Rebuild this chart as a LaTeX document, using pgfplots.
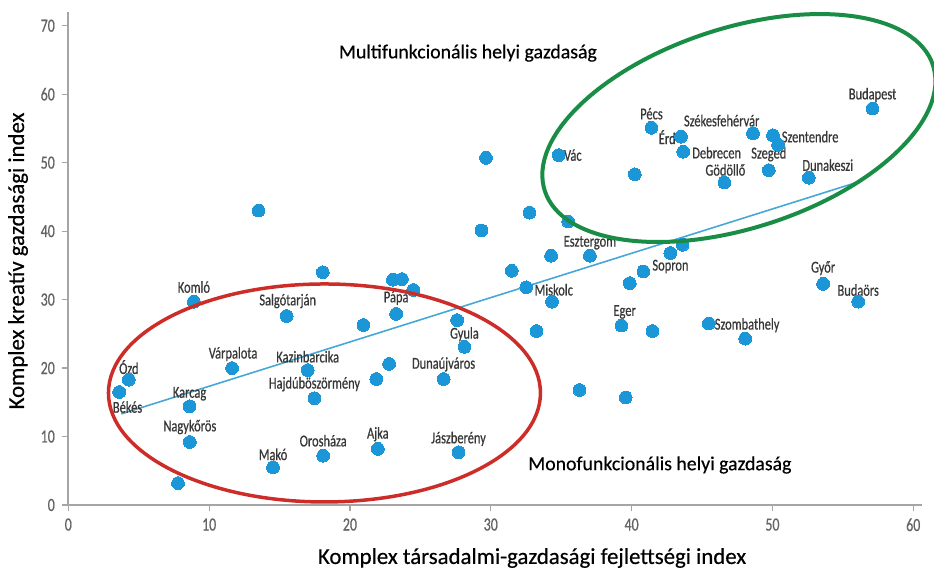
\documentclass[border=0pt]{standalone}
\usepackage{fontspec}
\setmainfont{Carlito}
\newfontfamily\condfont[FakeStretch=0.75, FakeBold=0.6]{Carlito}
\newfontfamily\axfont[FakeBold=0.4]{Carlito}
\usepackage{pgfplots}
\pgfplotsset{compat=1.18}
\definecolor{dotblue}{RGB}{27,150,214}
\definecolor{trendblue}{RGB}{70,168,215}
\definecolor{ellred}{RGB}{205,45,40}
\definecolor{ellgreen}{RGB}{25,140,70}
\definecolor{axisgray}{RGB}{165,165,165}
\definecolor{tickgray}{RGB}{100,100,100}
\definecolor{labelgray}{RGB}{55,55,55}
\begin{document}
\begin{tikzpicture}
\useasboundingbox (-34.15pt,-33pt) rectangle (432.85pt,252.5pt);
\tikzset{lbl/.style={font=\condfont\fontsize{8.3}{9}\selectfont, text=labelgray, inner sep=0pt}}
\begin{axis}[
  at={(0,0)}, anchor=south west,
  scale only axis, width=426.7pt, height=246.5pt,
  xmin=0, xmax=60.6, ymin=0, ymax=72,
  axis lines=left,
  axis line style={draw=axisgray, line width=1pt, -},
  xtick={0,10,...,60}, ytick={0,10,...,70},
  tick style={draw=axisgray, line width=0.6pt},
  major tick length=3.2pt, tick align=outside,
  ticklabel style={font=\condfont\fontsize{9.3}{10}\selectfont, text=tickgray},
  /pgf/number format/assume math mode=true,
  clip=false,
  xlabel={Komplex társadalmi-gazdasági fejlettségi index},
  ylabel={Komplex kreatív gazdasági index},
  xlabel style={at={(axis description cs:0.5435,-0.1075)}, anchor=center, font=\axfont\fontsize{11.4}{13}\selectfont, text=black},
  ylabel style={at={(axis description cs:-0.0589,0.495)}, anchor=center, font=\axfont\fontsize{11.4}{13}\selectfont, text=black},
]
% trend line
\addplot[trendblue, line width=0.8pt] coordinates {(3.76,13.3) (55.97,47.1)};
% cities
\addplot[only marks, mark=*, mark size=3.2pt, color=dotblue, mark options={draw=dotblue, fill=dotblue, line width=0pt}] coordinates {
(13.51,43.0) (18.07,34.0) (29.66,50.7) (34.82,51.1) (32.75,42.7) (35.50,41.4)
(29.34,40.1) (34.28,36.4) (37.04,36.4) (31.49,34.2) (23.05,32.9) (23.69,33.0)
(24.49,31.4) (32.52,31.8) (57.11,57.9) (41.41,55.1) (43.51,53.8) (48.62,54.3)
(50.04,54.0) (50.40,52.6) (43.67,51.6) (40.23,48.3) (46.59,47.1) (49.74,48.9)
(52.58,47.8) (43.62,38.0) (42.75,36.8) (40.84,34.1) (39.87,32.4) (53.60,32.3)
(56.09,29.7) (39.28,26.2) (41.48,25.4) (45.48,26.5) (48.07,24.3) (39.58,15.7)
(34.35,29.7) (33.25,25.4) (36.30,16.8) (23.28,27.9) (20.96,26.3) (27.61,27.0)
(28.13,23.1) (22.78,20.6) (21.87,18.4) (26.65,18.4) (17.00,19.7) (17.48,15.6)
(18.10,7.2) (21.98,8.2) (27.71,7.7) (8.92,29.7) (15.51,27.6) (11.63,20.0)
(4.30,18.3) (3.61,16.5) (8.61,14.4) (8.63,9.2) (14.54,5.5) (7.79,3.2)
};
\coordinate (redc) at (axis cs:18.19,16.36);
\coordinate (greenc) at (axis cs:47.62,55.06);
% labels
\node[lbl, xshift=0pt, yshift=7.3pt] at (axis cs:8.92,29.7) {Komló};
\node[lbl, xshift=0.5pt, yshift=7.5pt] at (axis cs:15.51,27.6) {Salgótarján};
\node[lbl, xshift=0.5pt, yshift=7pt] at (axis cs:11.63,20.0) {Várpalota};
\node[lbl, yshift=6.3pt] at (axis cs:4.30,18.3) {Ózd};
\node[lbl, xshift=4.2pt, yshift=-7.5pt] at (axis cs:3.61,16.5) {Békés};
\node[lbl, yshift=6.3pt] at (axis cs:8.61,14.4) {Karcag};
\node[lbl, yshift=7.5pt] at (axis cs:8.63,9.2) {Nagykőrös};
\node[lbl, yshift=6.5pt] at (axis cs:14.54,5.5) {Makó};
\node[lbl, yshift=6.7pt] at (axis cs:17.00,19.7) {Kazinbarcika};
\node[lbl, yshift=7pt] at (axis cs:17.48,15.6) {Hajdúböszörmény};
\node[lbl, yshift=7.5pt] at (axis cs:18.10,7.2) {Orosháza};
\node[lbl, yshift=7.3pt] at (axis cs:21.98,8.2) {Ajka};
\node[lbl, yshift=6.7pt] at (axis cs:27.71,7.7) {Jászberény};
\node[lbl, yshift=7.3pt] at (axis cs:26.65,18.4) {Dunaújváros};
\node[lbl, yshift=6.3pt] at (axis cs:28.13,23.1) {Gyula};
\node[lbl, yshift=8pt] at (axis cs:23.28,27.9) {Pápa};
\node[lbl, anchor=west, xshift=4pt, yshift=-1.25pt] at (axis cs:32.52,31.8) {Miskolc};
\node[lbl, xshift=1.6pt, yshift=6.8pt] at (axis cs:39.28,26.2) {Eger};
\node[lbl, anchor=west, xshift=2.8pt, yshift=-0.8pt] at (axis cs:45.48,26.5) {Szombathely};
\node[lbl, yshift=5.8pt] at (axis cs:56.09,29.7) {Budaörs};
\node[lbl, yshift=7.8pt] at (axis cs:53.60,32.3) {Győr};
\node[lbl, anchor=west, xshift=4.3pt, yshift=2.5pt] at (axis cs:40.84,34.1) {Sopron};
\node[lbl, yshift=6.5pt] at (axis cs:37.04,36.4) {Esztergom};
\node[lbl, anchor=west, xshift=2.5pt] at (axis cs:34.82,51.1) {Vác};
\node[lbl, yshift=7pt] at (axis cs:41.41,55.1) {Pécs};
\node[lbl, anchor=east, xshift=-2.5pt, yshift=-0.3pt] at (axis cs:43.51,53.8) {Érd};
\node[lbl, xshift=-15.65pt, yshift=6.3pt] at (axis cs:48.62,54.3) {Székesfehérvár};
\node[lbl, anchor=west, xshift=4.2pt, yshift=-0.7pt] at (axis cs:50.04,54.0) {Szentendre};
\node[lbl, anchor=west, xshift=4.3pt, yshift=-0.5pt] at (axis cs:43.67,51.6) {Debrecen};
\node[lbl, yshift=8pt] at (axis cs:49.74,48.9) {Szeged};
\node[lbl, xshift=0.5pt, yshift=6.3pt] at (axis cs:46.59,47.1) {Gödöllő};
\node[lbl, xshift=9.5pt, yshift=6.3pt] at (axis cs:52.58,47.8) {Dunakeszi};
\node[lbl, yshift=6.8pt] at (axis cs:57.11,57.9) {Budapest};
% group titles
\node[font=\axfont\fontsize{9.9}{12}\selectfont, text=black, inner sep=0pt] at (axis cs:28.38,66.0) {Multifunkcionális helyi gazdaság};
\node[font=\axfont\fontsize{9.9}{12}\selectfont, text=black, inner sep=0pt] at (axis cs:42.01,5.84) {Monofunkcionális helyi gazdaság};
\end{axis}
\draw[ellred, line width=1.75pt] (redc) ellipse [x radius=108pt, y radius=54.5pt];
\draw[ellgreen, line width=2pt, rotate around={17.9:(greenc)}] (greenc) ellipse [x radius=102pt, y radius=50pt];
\end{tikzpicture}
\end{document}
